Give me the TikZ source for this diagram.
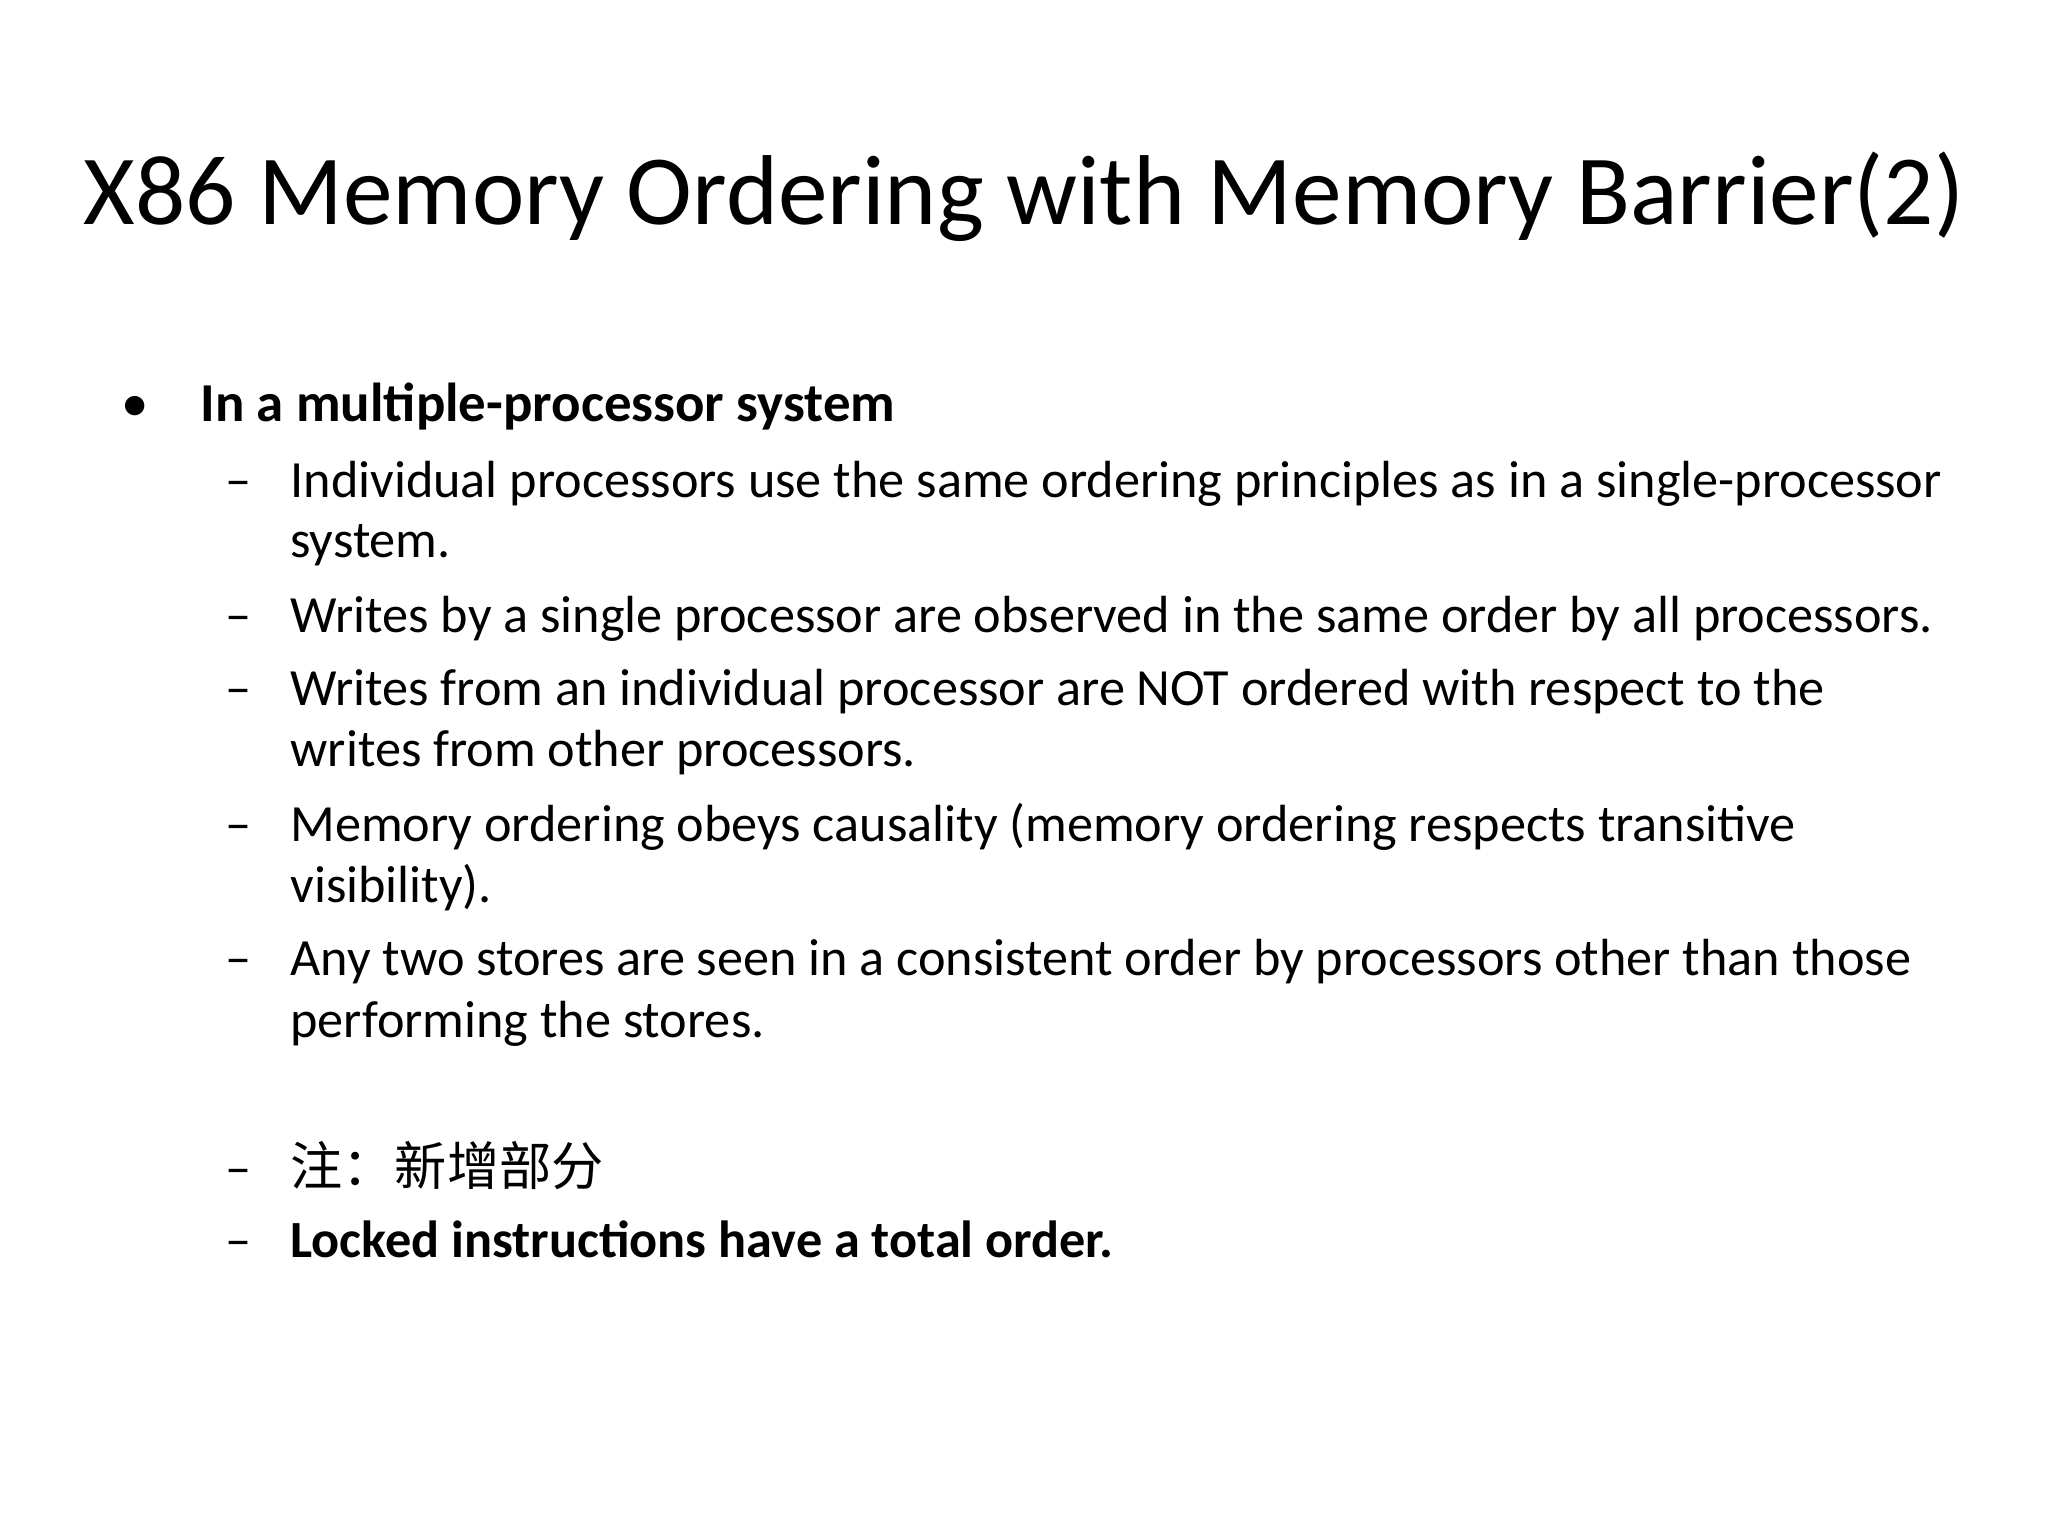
\documentclass[tikz,border=0pt]{standalone}
\usepackage{fontspec}
\setmainfont{Carlito}
\newfontfamily\cjk{Noto Sans CJK SC}
\begin{document}
\begin{tikzpicture}[x=0.5pt,y=-0.5pt,
  tx/.style={anchor=base west,inner sep=0pt,font=\fontsize{20}{24}\selectfont},
  dsh/.style={anchor=base west,inner sep=0pt,font=\fontsize{20}{24}\selectfont}]
\useasboundingbox[fill=white] (0,0) rectangle (1568,1176);
\node[anchor=base,inner sep=0pt,font=\fontsize{38}{44}\selectfont] (title) at (784,172) {X86 Memory Ordering with Memory Barrier(2)};
\node[anchor=base west,inner sep=0pt,font=\fontsize{21}{24}\selectfont] (b0) at (93,323) {•};
\node[tx,font=\bfseries\fontsize{21}{24}\selectfont] (h) at (153,323) {In a multiple-processor system};
\foreach \y/\n in {381/d1,484/d2,540/d3,644/d4,747/d5,908/d6,963/d7}
  \node[dsh] (\n) at (172,\y) {–};
\node[tx] (l1) at (222,381) {Individual processors use the same ordering principles as in a single-processor};
\node[tx] (l1b) at (222,427) {system.};
\node[tx] (l2) at (222,484) {Writes by a single processor are observed in the same order by all processors.};
\node[tx] (l3) at (222,540) {Writes from an individual processor are NOT ordered with respect to the};
\node[tx] (l3b) at (222,587) {writes from other processors.};
\node[tx] (l4) at (222,644) {Memory ordering obeys causality (memory ordering respects transitive};
\node[tx] (l4b) at (222,691) {visibility).};
\node[tx] (l5) at (222,747) {Any two stores are seen in a consistent order by processors other than those};
\node[tx] (l5b) at (222,794) {performing the stores.};
\node[tx,font=\cjk\fontsize{20}{24}\selectfont] (l6) at (222,908) {注：新增部分};
\node[tx,font=\bfseries\fontsize{20}{24}\selectfont] (l7) at (222,963) {Locked instructions have a total order.};
\end{tikzpicture}
\end{document}
